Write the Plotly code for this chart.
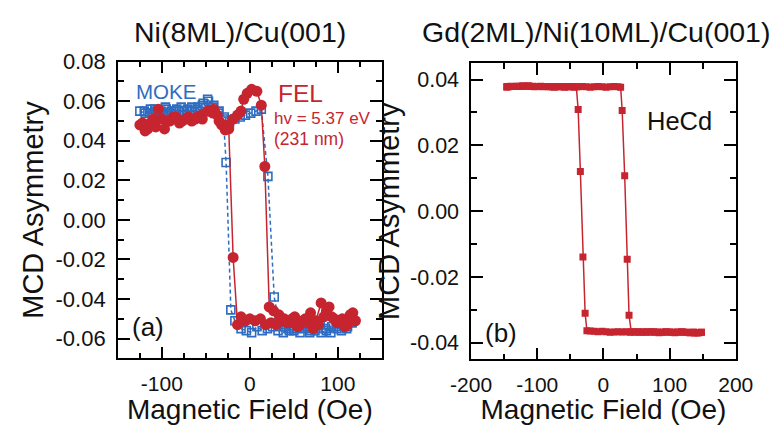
import plotly.graph_objects as go

# ---------------- Panel (a): Ni(8ML)/Cu(001) ----------------
# FEL (red filled circles) - field sweep up then down
fel_up_x = [-122, -116, -110, -104, -97, -91, -84, -77, -70, -62, -55, -47, -41, -37, -32, -28, -24, -19, -14, -10, -7, -3, 2, 8, 13, 17, 22,
            27, 33, 39, 45, 51, 57, 63, 69, 75, 81, 87, 93, 99, 105, 111, 117]
fel_up_y = [0.049, 0.046, 0.051, 0.056, 0.046, 0.050, 0.052, 0.050, 0.052, 0.051, 0.053, 0.055, 0.056, 0.053, 0.048, 0.0455, 0.047, 0.051, 0.053, 0.055, 0.061, 0.064, 0.066, 0.065, 0.058, 0.027, -0.044,
            -0.046, -0.048, -0.050, -0.052, -0.049, -0.053, -0.050, -0.047, -0.051, -0.042, -0.046, -0.049, -0.052, -0.050, -0.053, -0.047]
fel_down_x = [120, 114, 108, 102, 96, 90, 84, 78, 72, 66, 60, 54, 48, 42, 36, 30, 24, 18, 12, 6, 0, -5, -10, -14, -19, -24,
              -29, -35, -42, -48, -54, -60, -66, -73, -80, -87, -94, -100, -107, -113, -119, -125]
fel_down_y = [-0.051, -0.048, -0.054, -0.051, -0.050, -0.044, -0.049, -0.053, -0.055, -0.052, -0.051, -0.054, -0.050, -0.052, -0.051, -0.053, -0.052, -0.053, -0.050, -0.051, -0.050, -0.051, -0.049, -0.053, -0.019, 0.046,
              0.048, 0.050, 0.054, 0.055, 0.051, 0.052, 0.050, 0.051, 0.049, 0.052, 0.050, 0.051, 0.047, 0.049, 0.045, 0.048]

# MOKE (blue open squares)
moke_up_x = [-125, -119, -113, -107, -101, -95, -89, -83, -77, -71, -65, -59, -53, -47, -41, -35, -29, -23, -17, -11, -5, 1, 7, 13, 20.5, 27.7,
             33, 39, 45, 51, 57, 63, 69, 75, 81, 87, 93, 99, 105, 111, 116]
moke_up_y = [0.055, 0.054, 0.056, 0.055, 0.054, 0.056, 0.055, 0.056, 0.055, 0.056, 0.055, 0.057, 0.059, 0.060, 0.058, 0.055, 0.052, 0.050, 0.051, 0.052, 0.053, 0.054, 0.055, 0.056, 0.022, -0.039,
             -0.052, -0.054, -0.056, -0.055, -0.057, -0.054, -0.056, -0.055, -0.057, -0.056, -0.054, -0.055, -0.053, -0.054, -0.052]
moke_down_x = [116, 110, 104, 98, 92, 86, 80, 74, 68, 62, 56, 50, 44, 38, 32, 26, 20, 14, 8, 2, -4, -10, -17, -21.6, -27, -30,
               -36, -42, -48, -54, -60, -66, -72, -78, -84, -90, -96, -102, -108, -114, -120]
moke_down_y = [-0.052, -0.055, -0.056, -0.054, -0.057, -0.055, -0.053, -0.056, -0.057, -0.055, -0.054, -0.056, -0.055, -0.057, -0.056, -0.054, -0.055, -0.056, -0.054, -0.057, -0.056, -0.055, -0.051, -0.0455, 0.029, 0.051,
               0.054, 0.057, 0.061, 0.058, 0.056, 0.057, 0.055, 0.057, 0.055, 0.054, 0.057, 0.055, 0.056, 0.054, 0.055]

# ---------------- Panel (b): Gd(2ML)/Ni(10ML)/Cu(001), HeCd ----------------
hecd_down_x = [148, 142, 136, 130, 124, 118, 112, 106, 100, 94, 88, 82, 76, 70, 64, 58, 52, 46, 40, 34, 28, 22, 16, 10, 4, -2, -8, -14, -20, -25,
               -27.7, -31.0, -34.9, -38.2,
               -41, -47, -53, -59, -65, -71, -77, -83, -89, -95, -101, -107, -113, -119, -125, -131, -137, -143, -146]
hecd_down_y = [-0.0368, -0.0370, -0.0367, -0.0369, -0.0368, -0.0366, -0.0367, -0.0368, -0.0367, -0.0366, -0.0368, -0.0367, -0.0366, -0.0367, -0.0368, -0.0367, -0.0366, -0.0367, -0.0368, -0.0366, -0.0367, -0.0366, -0.0367, -0.0368, -0.0366, -0.0365, -0.0366, -0.0365, -0.0364, -0.0363,
               -0.0310, -0.0139, 0.0121, 0.0309,
               0.0378, 0.0379, 0.0378, 0.0377, 0.0378, 0.0379, 0.0378, 0.0378, 0.0379, 0.0380, 0.0379, 0.0380, 0.0381, 0.0380, 0.0379, 0.0380, 0.0379, 0.0378, 0.0377]
hecd_up_x = [-146, -140, -134, -128, -122, -116, -110, -104, -98, -92, -86, -80, -74, -68, -62, -56, -50, -44, -38, -32, -26, -20, -14, -8, -2, 4, 10, 16, 22, 26,
             28.3, 32.1, 35.9, 38.7,
             42, 48, 54, 60, 66, 72, 78, 84, 90, 96, 102, 108, 114, 120, 126, 132, 138, 144, 148]
hecd_up_y = [0.0379, 0.0380, 0.0379, 0.0380, 0.0381, 0.0380, 0.0379, 0.0378, 0.0379, 0.0378, 0.0379, 0.0378, 0.0377, 0.0378, 0.0379, 0.0378, 0.0378, 0.0377, 0.0378, 0.0379, 0.0378, 0.0377, 0.0378, 0.0379, 0.0378, 0.0377, 0.0378, 0.0379, 0.0378, 0.0377,
             0.0306, 0.0108, -0.0146, -0.0316,
             -0.0366, -0.0367, -0.0368, -0.0367, -0.0366, -0.0367, -0.0368, -0.0369, -0.0368, -0.0367, -0.0368, -0.0369, -0.0368, -0.0367, -0.0368, -0.0369, -0.0370, -0.0369, -0.0368]

# tick values / labels
xa_ticks = [-100, 0, 100]
xa_labels = ["-100", "0", "100"]
ya_ticks = [-0.06, -0.04, -0.02, 0.0, 0.02, 0.04, 0.06, 0.08]
ya_labels = ["-0.06", "-0.04", "-0.02", "0.00", "0.02", "0.04", "0.06", "0.08"]
xb_ticks = [-200, -100, 0, 100, 200]
xb_labels = ["-200", "-100", "0", "100", "200"]
yb_ticks = [-0.04, -0.02, 0.0, 0.02, 0.04]
yb_labels = ["-0.04", "-0.02", "0.00", "0.02", "0.04"]

RED = "#c62530"
BLUE = "#2d6cc0"
FONT = "Liberation Sans, Arial, sans-serif"
W, H = 774, 425

fig = go.Figure()
fig.add_trace(go.Scatter(x=moke_up_x + moke_down_x, y=moke_up_y + moke_down_y, mode="lines+markers",
                         line=dict(color=BLUE, width=1.5, dash="4px,3px"),
                         marker=dict(symbol="square-open", size=8, color=BLUE, line=dict(width=1.6, color=BLUE)),
                         xaxis="x", yaxis="y", showlegend=False))
fig.add_trace(go.Scatter(x=fel_up_x + fel_down_x, y=fel_up_y + fel_down_y, mode="lines+markers",
                         line=dict(color=RED, width=1.5),
                         marker=dict(symbol="circle", size=11, color=RED),
                         xaxis="x", yaxis="y", showlegend=False))
fig.add_trace(go.Scatter(x=hecd_down_x + hecd_up_x, y=hecd_down_y + hecd_up_y, mode="lines+markers",
                         line=dict(color=RED, width=1.5),
                         marker=dict(symbol="square", size=7, color=RED),
                         xaxis="x2", yaxis="y2", showlegend=False))

def ax(tsize, ttsize, **kw):
    d = dict(showline=True, linecolor="black", linewidth=1.5, mirror="ticks",
             ticks="inside", ticklen=12, tickwidth=1.5, tickcolor="black",
             showgrid=False, zeroline=False, tickmode="array",
             tickfont=dict(family=FONT, size=tsize, color="#111"),
             title_font=dict(family=FONT, size=ttsize, color="#111"))
    d.update(kw)
    return d

pa_x = [102 / W, 380 / W]
pa_y = [1 - 359 / H, 1 - 51.5 / H]
pb_x = [474 / W, 752.7 / W]
pb_y = [1 - 360 / H, 1 - 53 / H]

fig.update_layout(
    width=W, height=H, margin=dict(l=0, r=0, t=0, b=0),
    paper_bgcolor="white", plot_bgcolor="white",
    xaxis=ax(21, 28, domain=pa_x, anchor="y", range=[-150, 150], tickvals=xa_ticks, ticktext=xa_labels,
             minor=dict(ticks="inside", ticklen=6, tickwidth=1.5, tickcolor="black", dtick=25, tick0=0),
             ticklabelstandoff=6, title=dict(text="Magnetic Field (Oe)", standoff=9)),
    yaxis=ax(22, 29, domain=pa_y, anchor="x", range=[-0.07, 0.08], tickvals=ya_ticks, ticktext=ya_labels,
             minor=dict(ticks="inside", ticklen=6, tickwidth=1.5, tickcolor="black", dtick=0.01, tick0=0),
             ticklabelstandoff=6, title=dict(text="MCD Asymmetry", standoff=3)),
    xaxis2=ax(21, 28, domain=pb_x, anchor="y2", range=[-200, 200], tickvals=xb_ticks, ticktext=xb_labels,
              minor=dict(ticks="inside", ticklen=6, tickwidth=1.5, tickcolor="black", dtick=50, tick0=0),
              ticklabelstandoff=6, title=dict(text="Magnetic Field (Oe)", standoff=9)),
    yaxis2=ax(21.5, 29, domain=pb_y, anchor="x2", range=[-0.045, 0.045], tickvals=yb_ticks, ticktext=yb_labels,
              minor=dict(ticks="inside", ticklen=6, tickwidth=1.5, tickcolor="black", dtick=0.01, tick0=0),
              ticklabelstandoff=6, title=dict(text="MCD Asymmetry", standoff=2)),
)

def ann(text, x, y, size, color="#111", xanchor="left"):
    fig.add_annotation(text=text, xref="paper", yref="paper", x=x / W, y=1 - y / H,
                       xanchor=xanchor, yanchor="middle", showarrow=False, borderpad=0,
                       font=dict(family=FONT, size=size, color=color))

ann("Ni(8ML)/Cu(001)", 231, 21, 28.5, xanchor="center")
ann("Gd(2ML)/Ni(10ML)/Cu(001)", 606, 21, 28.5, xanchor="center")
ann("MOKE", 120, 82, 20.5, BLUE)
ann("FEL", 270, 85, 24.5, RED)
ann("hv = 5.37 eV", 265, 110, 17, RED)
ann("(231 nm)", 265, 132, 17.5, RED)
ann("(a)", 116, 327, 26)
ann("(b)", 488, 333, 26)
ann("HeCd", 658, 113, 25.5)

fig.write_html("out.html")
